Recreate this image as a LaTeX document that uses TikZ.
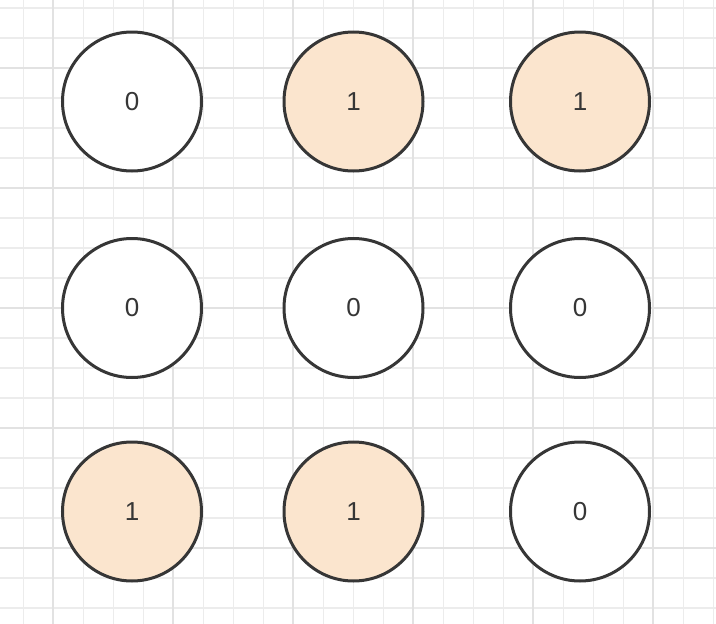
\documentclass[tikz,border=0pt]{standalone}
\usepackage{fontspec}
\setmainfont{Liberation Sans}
\definecolor{peach}{HTML}{FBE5CE}
\definecolor{ring}{HTML}{363636}
\definecolor{minorline}{HTML}{ECECEC}
\definecolor{majorline}{HTML}{E2E2E2}
\tikzset{
  bit/.style={circle,draw=ring,line width=3pt,minimum size=139pt,inner sep=0pt,
    font=\fontsize{26}{30}\selectfont,text=ring},
}
\begin{document}
\begin{tikzpicture}[x=1pt,y=-1pt]
        \useasboundingbox[fill=white] (0,0) rectangle (716,624);
        \foreach \x in {23.3,53.3,...,713.3}
            \draw[minorline,line width=1.2pt] (\x,0)--(\x,624);
        \foreach \y in {8,38,...,608}
            \draw[minorline,line width=1.2pt] (0,\y)--(716,\y);
        \foreach \x in {53.3,173.3,...,653.3}
            \draw[majorline,line width=1.8pt] (\x,0)--(\x,624);
        \foreach \y in {68,188,...,548}
            \draw[majorline,line width=1.8pt] (0,\y)--(716,\y);
        \coordinate (A) at (132,101.5);
        \coordinate (B) at (353.5,101.5);
        \coordinate (C) at (580,101.5);
        \coordinate (D) at (132,308);
        \coordinate (E) at (353.5,308);
        \coordinate (F) at (580,308);
        \coordinate (G) at (132,511.5);
        \coordinate (H) at (353.5,511.5);
        \coordinate (I) at (580,511.5);
        \foreach \n/\v/\c in {A/0/white,B/1/peach,C/1/peach,D/0/white,E/0/white,
                              F/0/white,G/1/peach,H/1/peach,I/0/white}
            \node (bit\n) at (\n)[bit,fill=\c]{\v};
    \end{tikzpicture}
\end{document}
